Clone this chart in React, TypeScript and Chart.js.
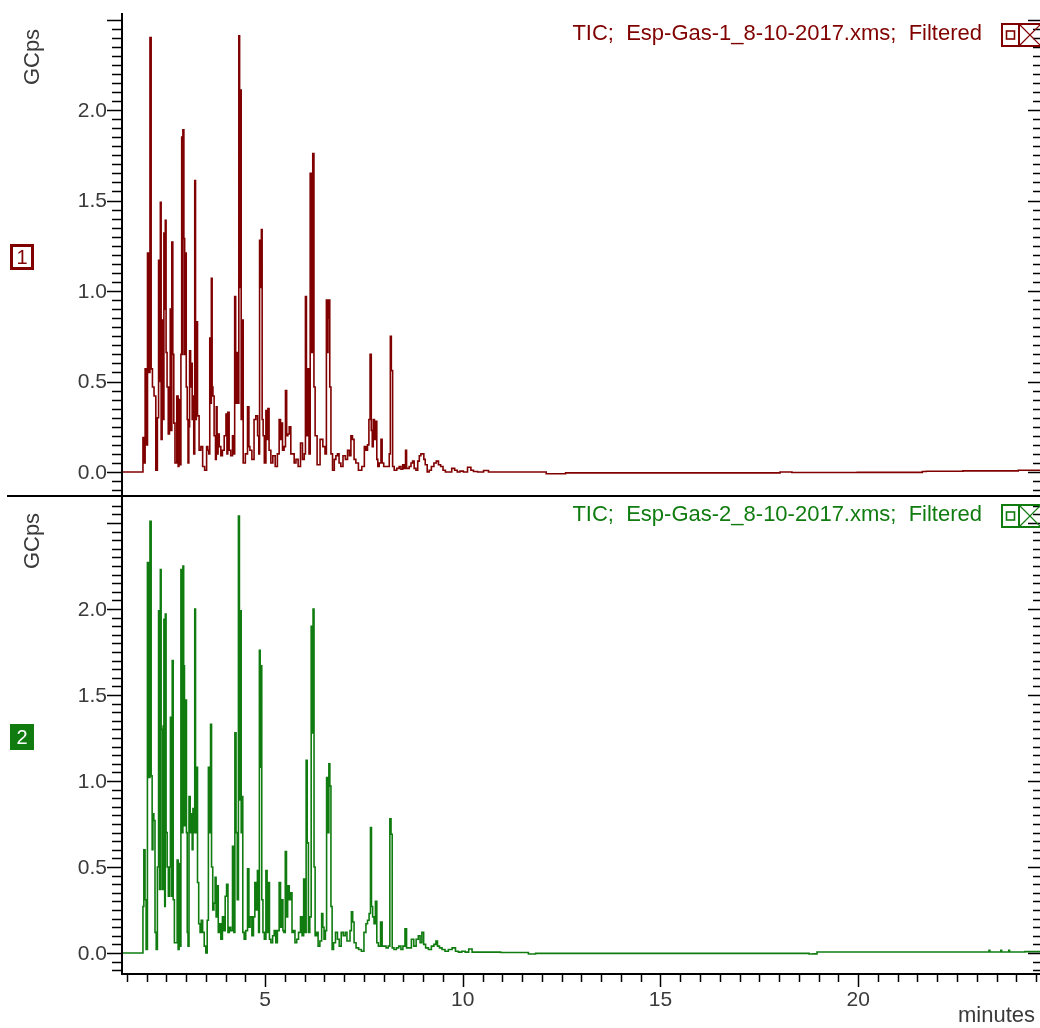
import React, { useEffect, useRef } from 'react';
import { Chart, registerables } from 'chart.js';

Chart.register(...registerables);

// ---- data (retention time in minutes, intensity in GCps) ----
const topTime = [
  1.38, 1.90, 1.92, 1.95, 1.98, 2.00, 2.05, 2.07, 2.105, 2.13, 2.17, 2.21, 2.26, 2.29, 2.32, 2.34, 2.36, 2.38, 2.41, 2.43,
  2.45, 2.47, 2.48, 2.51, 2.53, 2.57, 2.59, 2.61, 2.63, 2.65, 2.68, 2.70, 2.74, 2.79, 2.81, 2.83, 2.86, 2.88, 2.90, 2.91,
  2.93, 2.96, 2.97, 2.99, 3.02, 3.04, 3.06, 3.08, 3.10, 3.13, 3.14, 3.17, 3.18, 3.21, 3.23, 3.25, 3.27, 3.31, 3.35, 3.40,
  3.44, 3.50, 3.54, 3.56, 3.59, 3.61, 3.63, 3.65, 3.67, 3.69, 3.73, 3.76, 3.77, 3.80, 3.82, 3.86, 3.90, 3.94, 3.99, 4.03,
  4.04, 4.07, 4.11, 4.15, 4.20, 4.22, 4.24, 4.27, 4.30, 4.32, 4.35, 4.36, 4.38, 4.41, 4.42, 4.47, 4.53, 4.58, 4.60, 4.63,
  4.70, 4.74, 4.79, 4.83, 4.85, 4.87, 4.90, 4.91, 4.94, 4.96, 5.00, 5.04, 5.06, 5.08, 5.12, 5.17, 5.22, 5.29, 5.33, 5.38,
  5.40, 5.42, 5.46, 5.50, 5.53, 5.56, 5.59, 5.63, 5.67, 5.71, 5.76, 5.80, 5.87, 5.92, 5.97, 6.01, 6.03, 6.06, 6.09, 6.13,
  6.15, 6.19, 6.22, 6.25, 6.28, 6.35, 6.43, 6.49, 6.54, 6.56, 6.58, 6.60, 6.62, 6.65, 6.68, 6.73, 6.77, 6.81, 6.85, 6.89,
  6.94, 7.00, 7.06, 7.11, 7.15, 7.19, 7.23, 7.27, 7.32, 7.40, 7.49, 7.53, 7.57, 7.61, 7.64, 7.67, 7.70, 7.72, 7.75, 7.78,
  7.81, 7.84, 7.86, 7.91, 7.95, 7.97, 8.03, 8.12, 8.16, 8.175, 8.21, 8.24, 8.29, 8.37, 8.41, 8.46, 8.50, 8.54, 8.565, 8.59,
  8.62, 8.67, 8.71, 8.75, 8.79, 8.84, 8.88, 8.92, 8.96, 9.00, 9.03, 9.07, 9.13, 9.17, 9.24, 9.30, 9.36, 9.41, 9.47, 9.53,
  9.59, 9.68, 9.76, 9.83, 9.89, 9.97, 10.06, 10.18, 10.23, 10.31, 10.44, 10.61, 10.69, 12.10, 12.12, 12.59, 12.61, 18.00, 18.05, 18.30,
  18.35, 21.60, 21.65, 21.80, 23.50, 24.60,
];
const topSignal = [
  0.0, 0.0, 0.19, 0.05, 0.57, 0.15, 1.21, 0.55, 2.40, 0.57, 0.47, 0.42, 0.01, 0.30, 1.17, 0.50, 1.49, 0.18, 0.84, 0.29,
  1.32, 0.90, 1.39, 0.66, 0.47, 0.21, 0.47, 0.90, 0.23, 1.27, 0.65, 0.27, 0.05, 0.42, 0.03, 0.40, 0.04, 0.65, 1.85, 0.65,
  1.89, 1.29, 0.65, 1.21, 0.47, 0.29, 0.05, 0.25, 0.67, 0.47, 0.60, 0.29, 0.42, 0.10, 1.61, 0.29, 0.83, 0.31, 0.12, 0.14,
  0.03, 0.01, 0.14, 0.12, 0.10, 0.74, 0.38, 1.07, 0.47, 0.42, 0.20, 0.07, 0.36, 0.10, 0.21, 0.14, 0.09, 0.12, 0.20, 0.32,
  0.10, 0.33, 0.12, 0.09, 0.20, 0.10, 0.97, 0.38, 0.66, 0.38, 2.41, 1.02, 2.11, 0.29, 0.84, 0.05, 0.10, 0.36, 0.14, 0.12,
  0.07, 0.29, 0.31, 0.20, 0.10, 1.28, 1.02, 1.34, 0.29, 0.20, 0.05, 0.34, 0.18, 0.35, 0.12, 0.05, 0.09, 0.03, 0.10, 0.29,
  0.18, 0.27, 0.12, 0.14, 0.45, 0.20, 0.21, 0.25, 0.10, 0.10, 0.05, 0.07, 0.03, 0.16, 0.07, 0.10, 0.97, 0.20, 0.57, 0.10,
  1.65, 0.66, 1.76, 0.47, 0.20, 0.04, 0.18, 0.14, 0.10, 0.95, 0.66, 0.85, 0.95, 0.47, 0.10, 0.01, 0.07, 0.09, 0.10, 0.05,
  0.03, 0.09, 0.07, 0.12, 0.09, 0.20, 0.18, 0.07, 0.05, 0.01, 0.03, 0.14, 0.12, 0.15, 0.29, 0.65, 0.23, 0.14, 0.29, 0.18,
  0.28, 0.07, 0.03, 0.05, 0.18, 0.05, 0.03, 0.03, 0.10, 0.75, 0.56, 0.03, 0.01, 0.02, 0.03, 0.015, 0.04, 0.02, 0.12, 0.02,
  0.02, 0.03, 0.05, 0.06, 0.02, 0.01, 0.06, 0.09, 0.10, 0.10, 0.07, 0.04, 0.0, 0.01, 0.03, 0.05, 0.06, 0.04, 0.03, 0.01,
  0.0, 0.0, 0.02, 0.01, 0.0, 0.005, 0.0, 0.026, 0.01, 0.003, 0.0, 0.008, 0.0, 0.0, -0.01, -0.01, -0.005, -0.005, 0.0, 0.0,
  -0.003, -0.002, 0.003, 0.004, 0.006, 0.01,
];

const bottomTime = [
  1.38, 1.90, 1.92, 1.945, 1.98, 2.00, 2.046, 2.07, 2.105, 2.13, 2.155, 2.17, 2.20, 2.23, 2.26, 2.29, 2.32, 2.34, 2.36, 2.38,
  2.41, 2.43, 2.45, 2.47, 2.48, 2.51, 2.535, 2.57, 2.59, 2.62, 2.64, 2.66, 2.69, 2.72, 2.76, 2.79, 2.81, 2.84, 2.86, 2.88,
  2.91, 2.93, 2.95, 2.97, 3.00, 3.02, 3.04, 3.06, 3.09, 3.12, 3.14, 3.17, 3.18, 3.21, 3.23, 3.25, 3.28, 3.30, 3.34, 3.37,
  3.40, 3.44, 3.48, 3.52, 3.55, 3.58, 3.61, 3.63, 3.66, 3.69, 3.72, 3.75, 3.77, 3.80, 3.83, 3.86, 3.90, 3.94, 3.97, 4.01,
  4.04, 4.08, 4.11, 4.15, 4.20, 4.22, 4.25, 4.28, 4.31, 4.34, 4.36, 4.38, 4.41, 4.42, 4.45, 4.49, 4.53, 4.58, 4.60, 4.64,
  4.69, 4.72, 4.76, 4.79, 4.82, 4.85, 4.86, 4.89, 4.90, 4.93, 4.96, 5.00, 5.04, 5.06, 5.10, 5.12, 5.17, 5.21, 5.25, 5.29,
  5.33, 5.38, 5.40, 5.44, 5.46, 5.49, 5.53, 5.55, 5.59, 5.63, 5.66, 5.70, 5.73, 5.78, 5.82, 5.87, 5.92, 5.95, 6.00, 6.025,
  6.05, 6.08, 6.11, 6.15, 6.18, 6.20, 6.225, 6.25, 6.28, 6.32, 6.36, 6.41, 6.45, 6.47, 6.51, 6.54, 6.57, 6.60, 6.625, 6.65,
  6.68, 6.71, 6.75, 6.81, 6.85, 6.90, 6.95, 7.00, 7.05, 7.09, 7.13, 7.165, 7.20, 7.23, 7.27, 7.33, 7.40, 7.47, 7.53, 7.57,
  7.61, 7.65, 7.68, 7.70, 7.74, 7.77, 7.81, 7.84, 7.89, 7.95, 7.97, 8.03, 8.09, 8.14, 8.17, 8.20, 8.23, 8.29, 8.35, 8.41,
  8.46, 8.51, 8.565, 8.59, 8.67, 8.73, 8.79, 8.85, 8.90, 8.94, 8.99, 9.03, 9.09, 9.17, 9.24, 9.30, 9.34, 9.38, 9.44, 9.51,
  9.59, 9.68, 9.78, 9.85, 9.93, 10.02, 10.10, 10.20, 10.27, 11.65, 11.67, 11.83, 11.85, 18.75, 18.77, 18.95, 18.97, 23.30, 23.32, 23.34,
  23.60, 23.62, 23.64, 23.80, 23.82, 23.84, 24.60,
];
const bottomSignal = [
  0.0, 0.0, 0.27, 0.60, 0.31, 0.02, 2.27, 1.02, 2.51, 1.03, 0.60, 0.81, 0.77, 0.12, 0.02, 0.50, 1.99, 0.37, 2.23, 1.30,
  0.37, 1.32, 1.94, 0.27, 1.97, 0.70, 0.50, 0.33, 0.50, 1.37, 0.33, 1.70, 0.31, 0.06, 0.06, 0.54, 0.02, 0.52, 0.04, 2.23,
  0.70, 2.25, 1.67, 0.74, 1.47, 0.70, 0.12, 0.04, 0.91, 0.70, 0.81, 0.60, 0.84, 0.70, 2.00, 0.70, 1.08, 0.41, 0.17, 0.12,
  0.19, 0.12, 0.04, 0.0, 0.19, 1.08, 0.70, 1.33, 0.50, 0.25, 0.29, 0.44, 0.21, 0.39, 0.12, 0.17, 0.08, 0.21, 0.13, 0.33,
  0.40, 0.12, 0.15, 0.13, 0.62, 0.12, 1.28, 0.70, 0.31, 2.54, 0.89, 1.99, 0.70, 0.91, 0.12, 0.08, 0.13, 0.49, 0.15, 0.21,
  0.10, 0.21, 0.41, 0.25, 0.48, 0.12, 1.76, 1.08, 1.67, 0.31, 0.12, 0.08, 0.48, 0.12, 0.41, 0.08, 0.06, 0.10, 0.13, 0.06,
  0.13, 0.41, 0.15, 0.31, 0.13, 0.12, 0.59, 0.21, 0.39, 0.31, 0.35, 0.12, 0.13, 0.06, 0.08, 0.12, 0.21, 0.10, 0.43, 0.12,
  1.12, 0.64, 0.12, 0.21, 1.90, 1.28, 2.00, 0.50, 0.10, 0.12, 0.04, 0.07, 0.23, 0.15, 0.08, 0.13, 1.02, 0.70, 1.10, 0.97,
  0.27, 0.02, 0.06, 0.12, 0.08, 0.04, 0.12, 0.10, 0.12, 0.07, 0.07, 0.13, 0.24, 0.18, 0.06, 0.03, 0.02, 0.01, 0.12, 0.17,
  0.19, 0.23, 0.73, 0.27, 0.21, 0.17, 0.30, 0.06, 0.04, 0.18, 0.04, 0.04, 0.03, 0.04, 0.78, 0.69, 0.03, 0.02, 0.03, 0.04,
  0.02, 0.04, 0.14, 0.03, 0.03, 0.08, 0.04, 0.08, 0.10, 0.06, 0.12, 0.05, 0.03, 0.02, 0.04, 0.05, 0.07, 0.04, 0.03, 0.02,
  0.01, 0.02, 0.03, 0.01, 0.005, 0.01, 0.005, 0.023, 0.005, 0.003, -0.006, -0.006, -0.002, -0.002, -0.006, -0.005, 0.006, 0.006, 0.015, 0.006,
  0.006, 0.015, 0.006, 0.006, 0.016, 0.006, 0.008,
];

const xTickLabels = [5, 10, 15, 20];
const yTickLabels = [0, 0.5, 1.0, 1.5, 2.0];
const topTitle = 'TIC;  Esp-Gas-1_8-10-2017.xms;  Filtered';
const bottomTitle = 'TIC;  Esp-Gas-2_8-10-2017.xms;  Filtered';
const yAxisTitle = 'GCps';
const xAxisTitle = 'minutes';
const panelLabels = ['1', '2'];

// ---- styling ----
const W = 1040;
const H = 1028;
const RED = '#800000';
const GREEN = '#107c10';
const TEXT = '#3a3a3a';
const FONT = '"Liberation Sans", Arial, sans-serif';
const DIVIDER_Y = 496;

const decorPlugin = {
  id: 'chromDecor',
  afterDraw(chart: any) {
    const { ctx, chartArea, scales } = chart;
    const L = chartArea.left;
    const R = chartArea.right;
    const T = chartArea.top;
    const B = chartArea.bottom;
    const xs = scales.x;
    ctx.save();

    // left axis line
    ctx.strokeStyle = '#000';
    ctx.lineWidth = 2;
    ctx.beginPath();
    ctx.moveTo(L, T - 1);
    ctx.lineTo(L, B + 1);
    ctx.stroke();

    // divider between panels
    ctx.beginPath();
    ctx.moveTo(7, DIVIDER_Y);
    ctx.lineTo(W, DIVIDER_Y);
    ctx.stroke();

    const panels = [
      { s: scales.y1, top: T, bottom: DIVIDER_Y, color: RED, title: topTitle, titleY: 34, iconY: 24, gY: 57, boxY: 244, label: panelLabels[0], filled: false },
      { s: scales.y2, top: DIVIDER_Y, bottom: B, color: GREEN, title: bottomTitle, titleY: 515, iconY: 505, gY: 541, boxY: 724, label: panelLabels[1], filled: true },
    ];

    for (const p of panels) {
      // y ticks (left and right)
      ctx.strokeStyle = '#000';
      ctx.lineWidth = 1.5;
      for (let k = -2; k <= 52; k++) {
        const v = k * 0.05;
        const py = Math.round(p.s.getPixelForValue(v)) + 0.5;
        if (py < p.top + 2 || py > p.bottom - 2) continue;
        const major = k % 10 === 0;
        const lenL = major ? 15 : 10;
        const lenR = major ? 12 : 7;
        ctx.beginPath();
        ctx.moveTo(L - lenL, py);
        ctx.lineTo(L, py);
        ctx.moveTo(R - lenR, py);
        ctx.lineTo(R, py);
        ctx.stroke();
      }
      // y labels
      ctx.fillStyle = TEXT;
      ctx.font = `21px ${FONT}`;
      ctx.textAlign = 'right';
      ctx.textBaseline = 'middle';
      for (const v of yTickLabels) {
        ctx.fillText(v.toFixed(1), L - 15, p.s.getPixelForValue(v) + 1);
      }
      // GCps (rotated)
      ctx.save();
      ctx.translate(33, p.gY);
      ctx.rotate(-Math.PI / 2);
      ctx.textAlign = 'center';
      ctx.textBaseline = 'middle';
      ctx.font = `22px ${FONT}`;
      ctx.fillText(yAxisTitle, 0, 0);
      ctx.restore();

      // title
      ctx.fillStyle = p.color;
      ctx.font = `22px ${FONT}`;
      ctx.textAlign = 'right';
      ctx.textBaseline = 'middle';
      ctx.fillText(p.title, 982, p.titleY);

      // icon boxes
      ctx.strokeStyle = p.color;
      ctx.lineWidth = 2;
      const iy = p.iconY;
      ctx.strokeRect(1002, iy, 17, 22);
      ctx.lineWidth = 1.6;
      ctx.strokeRect(1006.5, iy + 7, 8, 8);
      ctx.lineWidth = 2;
      ctx.strokeRect(1019, iy, 24, 22);
      ctx.lineWidth = 1.2;
      ctx.beginPath();
      ctx.moveTo(1020, iy + 1);
      ctx.lineTo(1040, iy + 21);
      ctx.moveTo(1040, iy + 1);
      ctx.lineTo(1020, iy + 21);
      ctx.stroke();

      // panel number box
      if (p.filled) {
        ctx.fillStyle = p.color;
        ctx.fillRect(10, p.boxY, 24, 26);
        ctx.fillStyle = '#fff';
      } else {
        ctx.lineWidth = 3;
        ctx.strokeStyle = p.color;
        ctx.strokeRect(11.5, p.boxY + 1.5, 21, 23);
        ctx.fillStyle = p.color;
      }
      ctx.font = `20px ${FONT}`;
      ctx.textAlign = 'center';
      ctx.textBaseline = 'middle';
      ctx.fillText(p.label, 22, p.boxY + 14);
    }

    // x ticks
    ctx.strokeStyle = '#000';
    ctx.lineWidth = 1.5;
    for (let k = 3; k <= 49; k++) {
      const t = k / 2;
      const px = Math.round(xs.getPixelForValue(t)) + 0.5;
      if (px < L || px > R) continue;
      const len = k % 10 === 0 ? 13 : 8;
      ctx.beginPath();
      ctx.moveTo(px, B);
      ctx.lineTo(px, B + len);
      ctx.stroke();
    }
    // x axis title
    ctx.fillStyle = TEXT;
    ctx.font = `22px ${FONT}`;
    ctx.textAlign = 'right';
    ctx.textBaseline = 'middle';
    ctx.fillText(xAxisTitle, 1035, 1016);

    ctx.restore();
  },
};

export default function App() {
  const ref = useRef<HTMLCanvasElement | null>(null);

  useEffect(() => {
    if (!ref.current) return;
    const chart = new Chart(ref.current, {
      type: 'line',
      data: {
        datasets: [
          {
            label: 'Esp-Gas-1',
            data: topTime.map((t, i) => ({ x: t, y: topSignal[i] })),
            yAxisID: 'y1',
            borderColor: RED,
            borderWidth: 1.6,
            pointRadius: 0,
            fill: false,
            stepped: 'middle',
          },
          {
            label: 'Esp-Gas-2',
            data: bottomTime.map((t, i) => ({ x: t, y: bottomSignal[i] })),
            yAxisID: 'y2',
            borderColor: GREEN,
            borderWidth: 1.6,
            pointRadius: 0,
            fill: false,
            stepped: 'middle',
          },
        ],
      },
      options: {
        animation: false,
        responsive: false,
        devicePixelRatio: 1,
        events: [],
        layout: { padding: { left: 122, top: 14, right: 0, bottom: 0 } },
        plugins: { legend: { display: false }, tooltip: { enabled: false }, title: { display: false } },
        scales: {
          x: {
            type: 'linear',
            position: 'bottom',
            min: 1.38,
            max: 24.6,
            grid: { display: false, drawTicks: false },
            border: { display: true, color: '#000', width: 2 },
            ticks: {
              autoSkip: false,
              maxRotation: 0,
              padding: 14,
              color: TEXT,
              font: { family: FONT, size: 21 },
              callback: (v: any) => String(v),
            },
            afterBuildTicks: (s: any) => {
              s.ticks = xTickLabels.map((v) => ({ value: v }));
            },
            afterFit: (s: any) => {
              s.height = 54;
            },
          },
          y1: {
            type: 'linear',
            display: false,
            min: -2.7735,
            max: 2.5304,
          },
          y2: {
            type: 'linear',
            display: false,
            min: -0.1221,
            max: 5.4593,
          },
        },
      },
      plugins: [decorPlugin],
    });
    return () => chart.destroy();
  }, []);

  return (
    <div style={{ position: 'absolute', left: 0, top: 0, width: W, height: H, background: '#fff' }}>
      <canvas ref={ref} width={W} height={H} style={{ display: 'block', width: W, height: H }} />
    </div>
  );
}
